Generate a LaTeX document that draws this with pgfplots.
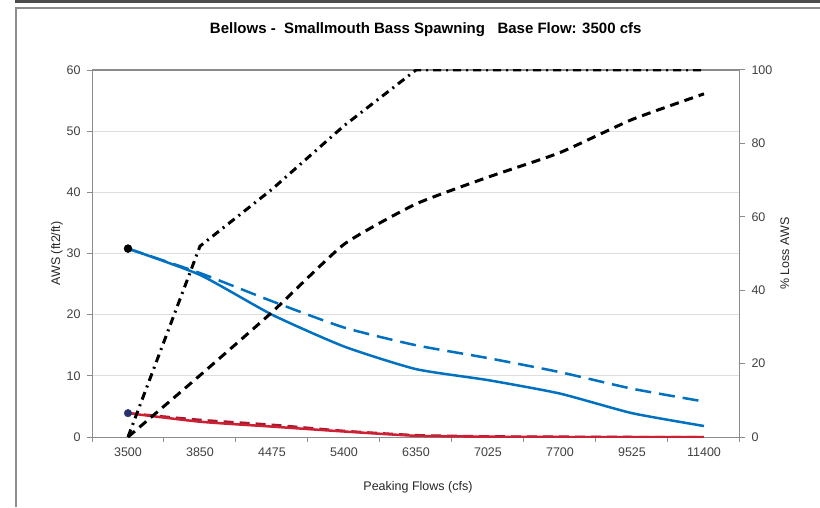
\documentclass[border=0pt]{standalone}
\usepackage{fontspec}
\setmainfont{Liberation Sans}
\usepackage{pgfplots}
\pgfplotsset{compat=1.18}
\definecolor{awsblue}{RGB}{0,112,192}
\definecolor{awsred}{RGB}{205,32,52}
\definecolor{gridgray}{RGB}{222,222,222}
\definecolor{axgray}{RGB}{140,140,140}
\definecolor{navy}{RGB}{40,50,110}
\begin{document}
\begin{tikzpicture}[x=1pt,y=1pt]
\useasboundingbox (0,0) rectangle (820,507);
\draw[axgray, line width=1.5pt] (16,0) -- (16,499) -- (820,499);
\draw[black!70, line width=3pt] (15,505.5) -- (820,505.5);
\pgfplotsset{
  mybase/.style={
    at={(92pt,70pt)}, anchor=south west, scale only axis,
    width=648pt, height=367pt,
    xmin=-0.5, xmax=8.5,
    /pgf/number format/assume math mode=true,
    tick label style={font=\fontsize{12.5}{14}\selectfont, text=black!75},
    label style={font=\fontsize{12.5}{14}\selectfont, text=black!85},
    axis line style={axgray, line width=1pt},
    tick style={axgray, line width=1pt},
    tick align=outside,
    major tick length=5pt, minor tick length=5pt,
    clip=true,
  }
}
\begin{axis}[mybase,
  ymin=0, ymax=60, ytick={0,10,...,50}, 
  extra y ticks={60}, extra y tick style={grid style={axgray, line width=1.6pt}},
  axis x line*=bottom, axis y line*=left,
  xtick={0,...,8},
  xticklabels={3500,3850,4475,5400,6350,7025,7700,9525,11400},
  minor xtick={-0.5,0.5,...,8.5},
  major x tick style={draw=none},
  ymajorgrids, grid style={gridgray, line width=1pt},
  yticklabel style={xshift=-3pt},
  xticklabel style={yshift=-2pt},
  ylabel={AWS (ft2/ft)},
  ylabel style={at={(axis description cs:-0.054,0.5)}, anchor=center},
  xlabel={Peaking Flows (cfs)},
  xlabel style={at={(axis description cs:0.503,-0.136)}, anchor=center},
  every axis title shift=0pt,
  title={\textbf{Bellows -\ \ Smallmouth Bass Spawning\ \ \ Base Flow: 3500 cfs}},
  title style={at={(axis description cs:0.515,1.109)}, anchor=center, font=\fontsize{15}{17}\selectfont},
]
% AWS, full (solid blue)
\addplot[awsblue, line width=2.5pt, smooth, tension=0.35] coordinates {
 (0,30.8) (1,26.5) (2,20.0) (3,14.8) (4,11.1) (5,9.3) (6,7.1) (7,3.9) (8,1.8)};
% AWS, second series (dashed blue)
\addplot[awsblue, line width=2.5pt, dash pattern=on 16pt off 8pt, smooth, tension=0.35] coordinates {
 (0,30.8) (1,26.8) (2,22.2) (3,17.9) (4,15.0) (5,12.9) (6,10.6) (7,7.9) (8,5.8)};
% red series
\addplot[awsred!80!black, line width=2.5pt, dash pattern=on 10pt off 6pt, smooth, tension=0.35] coordinates {
 (0,3.9) (1,2.8) (2,2.0) (3,1.0) (4,0.3) (5,0.1) (6,0.05) (7,0) (8,0)};
\addplot[awsred, line width=2.5pt, smooth, tension=0.35] coordinates {
 (0,3.9) (1,2.5) (2,1.7) (3,0.9) (4,0.2) (5,0.05) (6,0) (7,0) (8,0)};
% markers
\addplot[only marks, mark=*, mark size=4pt, black] coordinates {(0,30.8)};
\addplot[only marks, mark=*, mark size=3.8pt, navy] coordinates {(0,3.9)};
\end{axis}
\begin{axis}[mybase,
  ymin=0, ymax=100, ytick={0,20,...,100},
  axis x line=none, axis y line*=right,
  yticklabel style={xshift=3pt},
  ylabel={\% Loss AWS},
  ylabel style={at={(axis description cs:1.069,0.5)}, anchor=center},
]
% % loss, dashed black
\addplot[black, line width=3pt, dash pattern=on 9pt off 6pt, smooth, tension=0.3] coordinates {
 (0,0) (1,16.8) (2,34.0) (3,52.5) (4,63.5) (5,70.8) (6,77.5) (7,86.5) (8,93.5)};
% % loss, dash-dot black
\addplot[black, line width=3pt, dash pattern=on 8pt off 5pt on 2pt off 5pt] coordinates {
 (0,0) (1,52.0) (2,67.5) (3,84.8) (4,100) (5,100) (6,100) (7,100) (8,100)};
\end{axis}
\end{tikzpicture}
\end{document}
